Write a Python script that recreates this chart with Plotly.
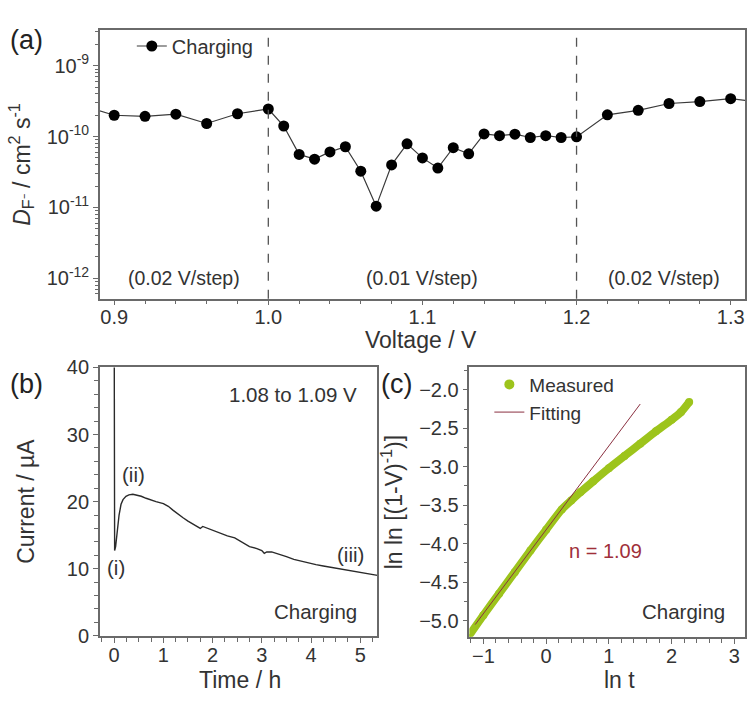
import plotly.graph_objects as go

# ---------------- data ----------------
# (a) diffusion coefficient of F- during charging
voltage = [0.88, 0.90, 0.92, 0.94, 0.96, 0.98, 1.00,
           1.01, 1.02, 1.03, 1.04, 1.05, 1.06, 1.07, 1.08, 1.09, 1.10,
           1.11, 1.12, 1.13, 1.14, 1.15, 1.16, 1.17, 1.18, 1.19, 1.20,
           1.22, 1.24, 1.26, 1.28, 1.30, 1.32]
diff_coef = [2.7e-10, 2.0e-10, 1.93e-10, 2.07e-10, 1.53e-10, 2.1e-10, 2.45e-10,
             1.41e-10, 5.6e-11, 4.8e-11, 6.07e-11, 7.18e-11, 3.24e-11, 1.04e-11, 3.98e-11, 7.9e-11, 5.0e-11,
             3.59e-11, 6.97e-11, 5.7e-11, 1.09e-10, 1.03e-10, 1.08e-10, 9.7e-11, 1.03e-10, 9.7e-11, 9.9e-11,
             2.03e-10, 2.35e-10, 2.93e-10, 3.12e-10, 3.43e-10, 3.06e-10]
step_boundaries = [1.0, 1.2]
step_labels = ["(0.02 V/step)", "(0.01 V/step)", "(0.02 V/step)"]
step_label_x = [0.945, 1.10, 1.257]
log_decades = [-12, -11, -10, -9]

# (b) current transient, 1.08 to 1.09 V
time_h = [0.0, 0.0, 0.01, 0.03, 0.06, 0.10, 0.14, 0.18, 0.24, 0.30, 0.38, 0.45,
          0.55, 0.65, 0.75, 0.85, 1.0, 1.1, 1.2, 1.3, 1.4, 1.5, 1.6, 1.7, 1.75,
          1.8, 1.9, 2.0, 2.15, 2.3, 2.45, 2.55, 2.65, 2.75, 2.9, 3.0, 3.05, 3.1,
          3.2, 3.35, 3.5, 3.65, 3.8, 3.95, 4.1, 4.25, 4.4, 4.55, 4.7, 4.85, 5.0,
          5.15, 5.35]
current_ua = [50.0, 16.0, 12.7, 13.3, 15.5, 18.0, 19.6, 20.3, 20.8, 21.0, 21.1, 21.0,
              20.8, 20.5, 20.2, 20.0, 19.7, 19.3, 18.7, 18.1, 17.6, 17.1, 16.7, 16.3, 16.0,
              16.3, 16.0, 15.7, 15.3, 14.9, 14.6, 14.2, 13.8, 13.3, 13.0, 12.7, 12.3, 12.5,
              12.5, 12.2, 11.8, 11.4, 11.1, 10.8, 10.6, 10.4, 10.2, 10.0, 9.9, 9.7, 9.5,
              9.3, 9.0]

# (c) JMAK plot
ln_t = [-1.25, -1.0, -0.75, -0.5, -0.25, 0.0, 0.25, 0.4, 0.55, 0.75, 1.0,
        1.25, 1.5, 1.75, 2.0, 2.15, 2.28]
lnln_v = [-5.22, -4.93, -4.65, -4.37, -4.09, -3.82, -3.555, -3.44, -3.33, -3.19, -3.02,
          -2.86, -2.70, -2.54, -2.39, -2.29, -2.16]
n_avrami = 1.09
fit_intercept = -3.82
fit_x = [-1.13, 1.50]
fit_y = [n_avrami * x + fit_intercept for x in fit_x]

# ---------------- styling ----------------
FONT = "Liberation Sans, Arial, sans-serif"
TXT = "#333333"
AX = "#6a6a6a"
GREEN = "#9dc41c"
MAROON = "#8a3040"
W, H = 747, 702


def px_x(p):
    return p / W


def px_y(p):
    return 1 - p / H


fig = go.Figure()

fig.add_trace(go.Scatter(
    x=voltage, y=diff_coef, mode="lines+markers", name="Charging",
    line=dict(color="#3a3a3a", width=1.2),
    marker=dict(color="black", size=11),
    xaxis="x", yaxis="y", legend="legend"))

fig.add_trace(go.Scatter(
    x=time_h, y=current_ua, mode="lines", showlegend=False,
    line=dict(color="#2a2a2a", width=1.4),
    xaxis="x2", yaxis="y2"))

fig.add_trace(go.Scatter(
    x=ln_t, y=lnln_v, mode="lines+markers", showlegend=False,
    line=dict(color=GREEN, width=8, shape="spline", smoothing=0.6),
    marker=dict(color=GREEN, size=8),
    xaxis="x3", yaxis="y3"))
fig.add_trace(go.Scatter(
    x=[None], y=[None], mode="markers", name="Measured",
    marker=dict(color=GREEN, size=10),
    xaxis="x3", yaxis="y3", legend="legend2"))
fig.add_trace(go.Scatter(
    x=fit_x, y=fit_y, mode="lines", name="Fitting",
    line=dict(color=MAROON, width=1),
    xaxis="x3", yaxis="y3", legend="legend2"))

common = dict(showline=True, linecolor=AX, linewidth=1.5, mirror=True,
              ticks="outside", ticklen=5, tickwidth=1.3, tickcolor=AX,
              showgrid=False, zeroline=False,
              tickfont=dict(family=FONT, size=20, color=TXT),
              title_font=dict(family=FONT, size=23, color=TXT))
x_common = dict(common, ticklabelstandoff=-5)

minor_log = [m * 10.0 ** d for d in range(-13, -8) for m in range(2, 10)]

fig.update_layout(
    width=W, height=H, margin=dict(l=0, r=0, t=0, b=0),
    plot_bgcolor="white", paper_bgcolor="white",
    font=dict(family=FONT, color=TXT),
    xaxis=dict(domain=[px_x(100), px_x(746)], anchor="y",
               range=[0.8907, 1.3093], dtick=0.1, tick0=0.9, tickformat=".1f",
               minor=dict(dtick=0.02, tick0=0.9, ticks="outside", ticklen=4, tickcolor=AX),
               **x_common),
    yaxis=dict(domain=[px_y(297), px_y(20)], anchor="x", type="log",
               range=[-12.29, -8.5], tickmode="array",
               tickvals=[10.0 ** d for d in log_decades],
               ticktext=["10<sup>%d</sup>" % d for d in log_decades],
               minor=dict(tickmode="array", tickvals=minor_log, ticks="outside",
                          ticklen=3, tickcolor=AX),
               title=dict(text="<i>D</i><sub>F⁻</sub> / cm<sup>2</sup> s<sup>-1</sup>", standoff=10),
               **common),
    xaxis2=dict(domain=[px_x(100), px_x(378)], anchor="y2",
                range=[-0.29, 5.35], dtick=1, tick0=0,
                minor=dict(dtick=0.25, tick0=0, ticks="outside", ticklen=4, tickcolor=AX),
                **x_common),
    yaxis2=dict(domain=[px_y(645), px_y(368)], anchor="x2",
                range=[0, 40], dtick=10,
                minor=dict(dtick=2, ticks="outside", ticklen=4, tickcolor=AX),
                title=dict(text="Current / µA", standoff=26), **common),
    xaxis3=dict(domain=[px_x(470), px_x(746)], anchor="y3",
                range=[-1.223, 3.17], dtick=1, tick0=0,
                minor=dict(dtick=0.2, tick0=0, ticks="outside", ticklen=4, tickcolor=AX),
                **x_common),
    yaxis3=dict(domain=[px_y(646), px_y(368)], anchor="x3",
                range=[-5.21, -1.71], dtick=0.5, tick0=-5, tickformat=".1f",
                minor=dict(dtick=0.25, tick0=-5, ticks="outside", ticklen=4, tickcolor=AX),
                title=dict(text="ln ln [(1-V)<sup>-1</sup>)]", standoff=10), **common),
    legend=dict(x=px_x(132), y=px_y(16), xanchor="left", yanchor="top",
                bgcolor="rgba(0,0,0,0)", font=dict(family=FONT, size=20, color=TXT)),
    legend2=dict(x=px_x(490), y=px_y(366), xanchor="left", yanchor="top",
                 bgcolor="rgba(0,0,0,0)", tracegroupgap=0,
                 font=dict(family=FONT, size=19, color=TXT)),
)

# x-axis titles, set close under the tick labels
x_titles = [("Voltage / V", 422, 340), ("Time / h", 240, 691), ("ln t", 620, 691)]
for txt, tx, ty in x_titles:
    fig.add_annotation(x=px_x(tx), y=px_y(ty), xref="paper", yref="paper", text=txt,
                       xanchor="center", yanchor="middle", showarrow=False,
                       font=dict(family=FONT, size=23, color=TXT))

# step boundaries in (a)
for xb in step_boundaries:
    fig.add_shape(type="line", xref="x", yref="y domain", x0=xb, x1=xb, y0=0, y1=1,
                  line=dict(color="#555555", width=1.3, dash="dash"))

for lbl, lx in zip(step_labels, step_label_x):
    fig.add_annotation(x=lx, y=-12, xref="x", yref="y", text=lbl, showarrow=False,
                       font=dict(family=FONT, size=19.5, color=TXT))

# panel letters
for letter, (lx, ly) in zip(["(a)", "(b)", "(c)"], [(27, 30), (27, 385), (397, 385)]):
    fig.add_annotation(x=px_x(lx), y=px_y(ly), xref="paper", yref="paper", text=letter,
                       xanchor="center", yanchor="middle", showarrow=False,
                       font=dict(family=FONT, size=27, color="#222222"))

# (b) annotations
b_notes = [("1.08 to 1.09 V", 4.97, 36.0, "right"), ("(ii)", 0.40, 24.1, "center"),
           ("(i)", 0.03, 10.2, "center"), ("(iii)", 4.8, 12.1, "center"),
           ("Charging", 4.97, 3.6, "right")]
for txt, bx, by, xa in b_notes:
    fig.add_annotation(x=bx, y=by, xref="x2", yref="y2", text=txt, showarrow=False,
                       xanchor=xa, font=dict(family=FONT, size=20.5, color=TXT))

# (c) annotations
fig.add_annotation(x=0.95, y=-4.10, xref="x3", yref="y3", text="n = %.2f" % n_avrami,
                   showarrow=False, font=dict(family=FONT, size=20, color="#a0303a"))
fig.add_annotation(x=2.89, y=-4.88, xref="x3", yref="y3", text="Charging",
                   showarrow=False, xanchor="right", font=dict(family=FONT, size=20.5, color=TXT))

fig.write_html("out.html")
